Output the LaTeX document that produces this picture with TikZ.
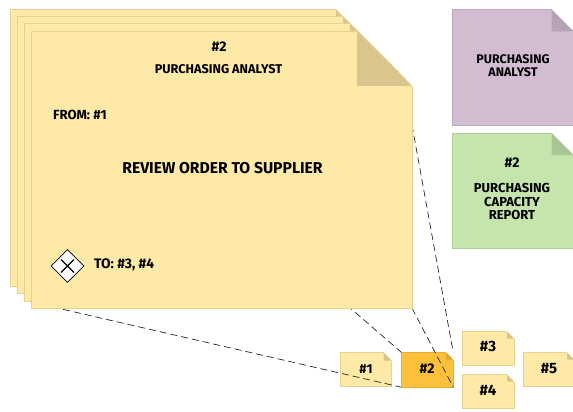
\documentclass[tikz,border=0pt]{standalone}
\usepackage{fontspec}
\usetikzlibrary{shapes.geometric}
\setmainfont{Fira Sans}
\definecolor{yfill}{HTML}{FFE9A6}
\definecolor{yedge}{HTML}{E6D290}
\definecolor{yfold}{HTML}{D8C68E}
\definecolor{ofill}{HTML}{FDC03B}
\definecolor{oedge}{HTML}{E5AE38}
\definecolor{ofold}{HTML}{D9A63A}
\definecolor{pfill}{HTML}{D1BCD2}
\definecolor{pedge}{HTML}{BCA9BD}
\definecolor{pfold}{HTML}{B5A3B6}
\definecolor{gfill}{HTML}{C5E5AC}
\definecolor{gedge}{HTML}{B1CE9B}
\definecolor{gfold}{HTML}{A9C595}
% \notesheet{name}{left}{top}{right}{bottom}{fold}{fill}{edge}{foldcolour}
\newcommand{\notesheet}[9]{%
  \fill[#7] (#2,#3) -- (#4-#6,#3) -- (#4,#3+#6) -- (#4,#5) -- (#2,#5) -- cycle;
  \draw[#8,line width=0.9pt] (#4-#6,#3) -- (#2,#3) -- (#2,#5) -- (#4,#5) -- (#4,#3+#6);
  \fill[#9] (#4-#6,#3) -- (#4,#3+#6) -- (#4-#6,#3+#6) -- cycle;
  \node[inner sep=0pt,minimum width=#4 pt-#2 pt,minimum height=#5 pt-#3 pt] (#1) at ({(#2+#4)/2},{(#3+#5)/2}) {};
}
\tikzset{
  lbl/.style={inner sep=0pt,font=\fontsize{#1}{13.2}\selectfont\bfseries,align=center,text=black},
  lbl/.default=11,
  link/.style={draw=black!85,dash pattern=on 7pt off 4pt,line width=0.7pt},
}
\begin{document}
\begin{tikzpicture}[x=1pt,y=-1pt]
\useasboundingbox (0,0) rectangle (573,412);
% small notes
\notesheet{nA}{340}{352.5}{391.5}{386.5}{8}{yfill}{yedge}{yfold}
\notesheet{nB}{401.5}{352.5}{453}{387}{7}{ofill}{oedge}{ofold}
\notesheet{nC}{462}{331.5}{514}{365}{7}{yfill}{yedge}{yfold}
\notesheet{nD}{462}{374.5}{514}{408}{7}{yfill}{yedge}{yfold}
\notesheet{nE}{523}{352.5}{574}{386.5}{7}{yfill}{yedge}{yfold}
\node[lbl=13] (tA) at (366,369) {\#1};
\node[lbl=14] (tB) at (427,369) {\#2};
\node[lbl=15] (tC) at (488,346) {\#3};
\node[lbl=15] (tD) at (488,390) {\#4};
\node[lbl=15] (tE) at (549,368.5) {\#5};
% free ends of the connectors, on the big sheet
\coordinate (mTL) at (31,31);
\coordinate (mBL) at (31,302);
\coordinate (mBR) at (412,308);
\coordinate (mTR) at (412,125);
\path[link] (mTL) -- (nB.north west);
\path[link] (mBL) -- (nB.south west);
\path[link] (mBR) -- (nB.south east);
\path[link] (mTR) -- (nB.north east);
% stacked sheets
\notesheet{s1}{10.5}{9.5}{391}{286}{55}{yfill}{yedge}{yfold}
\notesheet{s2}{17.5}{16.5}{398}{293}{55}{yfill}{yedge}{yfold}
\notesheet{s3}{24.5}{23.5}{405}{301}{55}{yfill}{yedge}{yfold}
\notesheet{s4}{31}{31}{412}{308}{55}{yfill}{yedge}{yfold}
\node[lbl=14] (h1) at (219,47) {\#2};
\node[lbl=12.7] (h2) at (218.5,69) {PURCHASING ANALYST};
\node[lbl=13.2,anchor=west] (h3) at (53,115) {FROM: \#1};
\node[lbl=15.7] (h4) at (222.5,168) {REVIEW ORDER TO SUPPLIER};
\node[lbl=13.8,anchor=west] (h5) at (94,264.5) {TO: \#3, \#4};
% gateway
\node[draw=black,fill=white,diamond,aspect=1,inner sep=0pt,minimum size=33pt,line width=0.8pt] (gw) at (67.5,266) {};
\draw[black,line width=1.1pt] (61,259.5) -- (74,272.5) (74,259.5) -- (61,272.5);
% role and report
\notesheet{pN}{452}{9.5}{573.5}{125}{22}{pfill}{pedge}{pfold}
\node[lbl=12.5] (pT) at (513,66) {PURCHASING\\ANALYST};
\notesheet{gN}{452}{133}{573.5}{248}{22}{gfill}{gedge}{gfold}
\node[lbl=14] (g1) at (512,163) {\#2};
\node[lbl=13] (g2) at (512,201.5) {PURCHASING\\CAPACITY\\REPORT};
\end{tikzpicture}
\end{document}
